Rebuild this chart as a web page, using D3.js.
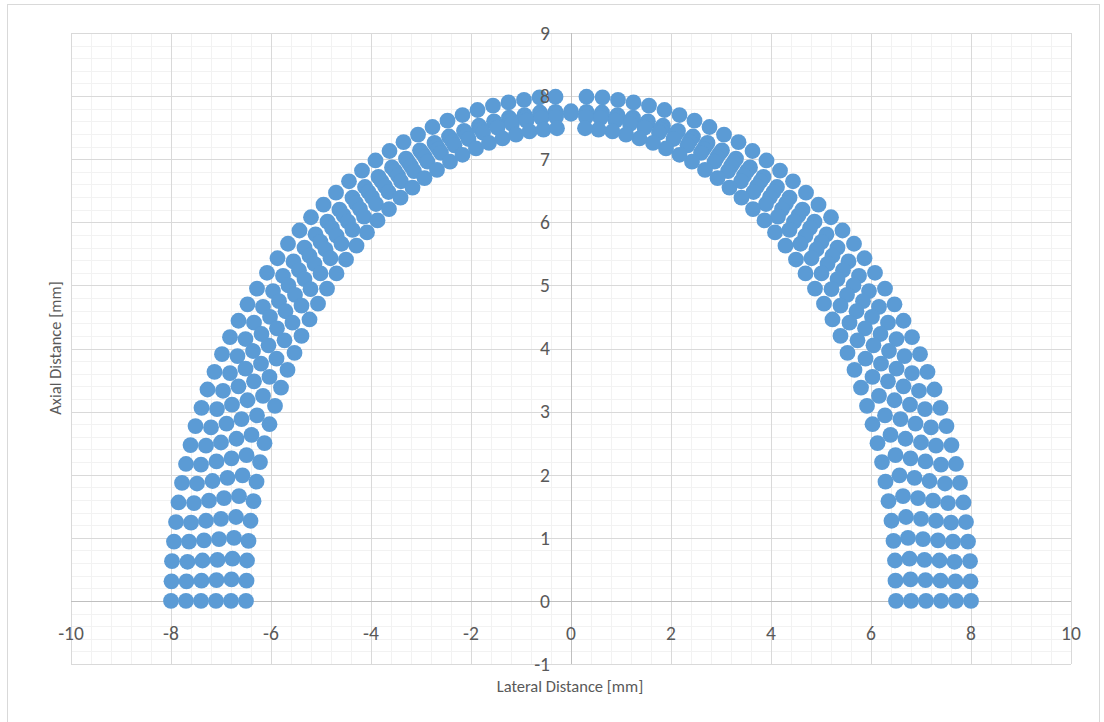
<!DOCTYPE html>
<html>
<head>
<meta charset="utf-8">
<script src="https://cdn.jsdelivr.net/npm/d3@7"></script>
<style>
  html, body { margin: 0; padding: 0; background: #fff; }
  svg { display: block; font-family: Calibri, Carlito, Lato, "Liberation Sans", sans-serif; }
</style>
</head>
<body>
<div id="chart"></div>
<script>
// point layers of the arch, outer to inner, [lateral mm, axial mm]
const outerLayer = [
  [-8,0],[-7.99,0.31],[-7.98,0.63],[-7.94,0.94],[-7.9,1.25],[-7.85,1.56],[-7.78,1.87],[-7.7,2.17],[-7.61,2.47],[-7.51,2.77],
  [-7.39,3.06],[-7.27,3.35],[-7.13,3.63],[-6.98,3.91],[-6.82,4.18],[-6.65,4.44],[-6.47,4.7],[-6.28,4.95],[-6.08,5.2],[-5.87,5.43],
  [-5.66,5.66],[-5.43,5.87],[-5.2,6.08],[-4.95,6.28],[-4.7,6.47],[-4.44,6.65],[-4.18,6.82],[-3.91,6.98],[-3.63,7.13],[-3.35,7.27],
  [-3.06,7.39],[-2.77,7.51],[-2.47,7.61],[-2.17,7.7],[-1.87,7.78],[-1.56,7.85],[-1.25,7.9],[-0.94,7.94],[-0.63,7.98],[-0.31,7.99],
  [8,0],[7.99,0.31],[7.98,0.63],[7.94,0.94],[7.9,1.25],[7.85,1.56],[7.78,1.87],[7.7,2.17],[7.61,2.47],[7.51,2.77],
  [7.39,3.06],[7.27,3.35],[7.13,3.63],[6.98,3.91],[6.82,4.18],[6.65,4.44],[6.47,4.7],[6.28,4.95],[6.08,5.2],[5.87,5.43],
  [5.66,5.66],[5.43,5.87],[5.2,6.08],[4.95,6.28],[4.7,6.47],[4.44,6.65],[4.18,6.82],[3.91,6.98],[3.63,7.13],[3.35,7.27],
  [3.06,7.39],[2.77,7.51],[2.47,7.61],[2.17,7.7],[1.87,7.78],[1.56,7.85],[1.25,7.9],[0.94,7.94],[0.63,7.98],[0.31,7.99]
];

const layer2 = [
  [-7.7,0],[-7.69,0.31],[-7.67,0.62],[-7.64,0.94],[-7.6,1.24],[-7.54,1.55],[-7.48,1.86],[-7.4,2.16],[-7.3,2.46],[-7.2,2.75],
  [-7.08,3.04],[-6.96,3.33],[-6.82,3.61],[-6.67,3.88],[-6.51,4.15],[-6.34,4.41],[-6.16,4.66],[-5.96,4.91],[-5.76,5.15],[-5.55,5.38],
  [-5.33,5.6],[-5.11,5.81],[-4.87,6.01],[-4.63,6.2],[-4.37,6.39],[-4.12,6.56],[-3.85,6.72],[-3.58,6.87],[-3.3,7.01],[-3.02,7.14],
  [-2.73,7.26],[-2.44,7.36],[-2.14,7.45],[-1.84,7.53],[-1.54,7.6],[-1.24,7.66],[-0.93,7.7],[-0.62,7.74],[-0.31,7.75],[0,7.76],
  [7.7,0],[7.69,0.31],[7.67,0.62],[7.64,0.94],[7.6,1.24],[7.54,1.55],[7.48,1.86],[7.4,2.16],[7.3,2.46],[7.2,2.75],
  [7.08,3.04],[6.96,3.33],[6.82,3.61],[6.67,3.88],[6.51,4.15],[6.34,4.41],[6.16,4.66],[5.96,4.91],[5.76,5.15],[5.55,5.38],
  [5.33,5.6],[5.11,5.81],[4.87,6.01],[4.63,6.2],[4.37,6.39],[4.12,6.56],[3.85,6.72],[3.58,6.87],[3.3,7.01],[3.02,7.14],
  [2.73,7.26],[2.44,7.36],[2.14,7.45],[1.84,7.53],[1.54,7.6],[1.24,7.66],[0.93,7.7],[0.62,7.74],[0.31,7.75]
];

const layer3 = [
  [-7.4,0],[-7.39,0.32],[-7.37,0.64],[-7.34,0.96],[-7.3,1.27],[-7.24,1.59],[-7.17,1.9],[-7.09,2.21],[-7,2.51],[-6.89,2.81],
  [-6.78,3.11],[-6.65,3.4],[-6.51,3.68],[-6.36,3.96],[-6.19,4.23],[-6.02,4.5],[-5.84,4.75],[-5.65,5],[-5.44,5.24],[-5.23,5.47],
  [-5.01,5.69],[-4.78,5.91],[-4.55,6.11],[-4.3,6.3],[-4.05,6.48],[-3.79,6.65],[-3.52,6.81],[-3.25,6.95],[-2.97,7.09],[-2.69,7.21],
  [-2.4,7.32],[-2.11,7.42],[-1.82,7.5],[-1.52,7.58],[-1.22,7.63],[-0.92,7.68],[-0.61,7.71],[-0.31,7.73],
  [7.4,0],[7.39,0.32],[7.37,0.64],[7.34,0.96],[7.3,1.27],[7.24,1.59],[7.17,1.9],[7.09,2.21],[7,2.51],[6.89,2.81],
  [6.78,3.11],[6.65,3.4],[6.51,3.68],[6.36,3.96],[6.19,4.23],[6.02,4.5],[5.84,4.75],[5.65,5],[5.44,5.24],[5.23,5.47],
  [5.01,5.69],[4.78,5.91],[4.55,6.11],[4.3,6.3],[4.05,6.48],[3.79,6.65],[3.52,6.81],[3.25,6.95],[2.97,7.09],[2.69,7.21],
  [2.4,7.32],[2.11,7.42],[1.82,7.5],[1.52,7.58],[1.22,7.63],[0.92,7.68],[0.61,7.71],[0.31,7.73]
];

const layer4 = [
  [-7.1,0],[-7.09,0.33],[-7.07,0.65],[-7.04,0.98],[-7,1.3],[-6.94,1.63],[-6.87,1.95],[-6.79,2.26],[-6.69,2.57],[-6.59,2.88],
  [-6.47,3.18],[-6.34,3.48],[-6.2,3.76],[-6.05,4.05],[-5.88,4.32],[-5.71,4.59],[-5.52,4.85],[-5.33,5.1],[-5.13,5.34],[-4.91,5.57],
  [-4.69,5.79],[-4.46,6.01],[-4.22,6.21],[-3.98,6.4],[-3.72,6.57],[-3.46,6.74],[-3.2,6.89],[-2.92,7.03],[-2.65,7.16],[-2.37,7.28],
  [-2.08,7.38],[-1.79,7.47],[-1.5,7.55],[-1.2,7.61],[-0.9,7.66],[-0.6,7.69],[-0.3,7.71],[0,7.72],
  [7.1,0],[7.09,0.33],[7.07,0.65],[7.04,0.98],[7,1.3],[6.94,1.63],[6.87,1.95],[6.79,2.26],[6.69,2.57],[6.59,2.88],
  [6.47,3.18],[6.34,3.48],[6.2,3.76],[6.05,4.05],[5.88,4.32],[5.71,4.59],[5.52,4.85],[5.33,5.1],[5.13,5.34],[4.91,5.57],
  [4.69,5.79],[4.46,6.01],[4.22,6.21],[3.98,6.4],[3.72,6.57],[3.46,6.74],[3.2,6.89],[2.92,7.03],[2.65,7.16],[2.37,7.28],
  [2.08,7.38],[1.79,7.47],[1.5,7.55],[1.2,7.61],[0.9,7.66],[0.6,7.69],[0.3,7.71]
];

const layer5 = [
  [-6.8,0],[-6.79,0.34],[-6.77,0.67],[-6.74,1],[-6.7,1.33],[-6.64,1.66],[-6.57,1.99],[-6.49,2.31],[-6.39,2.63],[-6.28,2.94],
  [-6.16,3.25],[-6.03,3.55],[-5.89,3.84],[-5.73,4.13],[-5.57,4.41],[-5.39,4.68],[-5.21,4.94],[-5.01,5.19],[-4.81,5.43],[-4.59,5.66],
  [-4.37,5.88],[-4.14,6.09],[-3.9,6.29],[-3.65,6.48],[-3.4,6.65],[-3.14,6.81],[-2.87,6.96],[-2.6,7.1],[-2.33,7.22],[-2.05,7.32],
  [-1.76,7.42],[-1.47,7.5],[-1.18,7.56],[-0.89,7.61],[-0.59,7.65],[-0.3,7.67],
  [6.8,0],[6.79,0.34],[6.77,0.67],[6.74,1],[6.7,1.33],[6.64,1.66],[6.57,1.99],[6.49,2.31],[6.39,2.63],[6.28,2.94],
  [6.16,3.25],[6.03,3.55],[5.89,3.84],[5.73,4.13],[5.57,4.41],[5.39,4.68],[5.21,4.94],[5.01,5.19],[4.81,5.43],[4.59,5.66],
  [4.37,5.88],[4.14,6.09],[3.9,6.29],[3.65,6.48],[3.4,6.65],[3.14,6.81],[2.87,6.96],[2.6,7.1],[2.33,7.22],[2.05,7.32],
  [1.76,7.42],[1.47,7.5],[1.18,7.56],[0.89,7.61],[0.59,7.65],[0.3,7.67]
];

const innerLayer = [
  [-6.5,0],[-6.49,0.32],[-6.48,0.64],[-6.45,0.95],[-6.41,1.27],[-6.35,1.58],[-6.29,1.89],[-6.22,2.2],[-6.13,2.5],[-6.03,2.8],
  [-5.92,3.09],[-5.8,3.38],[-5.67,3.66],[-5.53,3.93],[-5.39,4.2],[-5.23,4.46],[-5.06,4.71],[-4.88,4.95],[-4.69,5.19],[-4.5,5.41],
  [-4.29,5.63],[-4.08,5.84],[-3.87,6.03],[-3.64,6.21],[-3.41,6.39],[-3.17,6.55],[-2.93,6.7],[-2.68,6.83],[-2.42,6.96],[-2.17,7.07],
  [-1.9,7.17],[-1.64,7.26],[-1.37,7.33],[-1.1,7.39],[-0.83,7.44],[-0.55,7.47],[-0.28,7.49],
  [6.5,0],[6.49,0.32],[6.48,0.64],[6.45,0.95],[6.41,1.27],[6.35,1.58],[6.29,1.89],[6.22,2.2],[6.13,2.5],[6.03,2.8],
  [5.92,3.09],[5.8,3.38],[5.67,3.66],[5.53,3.93],[5.39,4.2],[5.23,4.46],[5.06,4.71],[4.88,4.95],[4.69,5.19],[4.5,5.41],
  [4.29,5.63],[4.08,5.84],[3.87,6.03],[3.64,6.21],[3.41,6.39],[3.17,6.55],[2.93,6.7],[2.68,6.83],[2.42,6.96],[2.17,7.07],
  [1.9,7.17],[1.64,7.26],[1.37,7.33],[1.1,7.39],[0.83,7.44],[0.55,7.47],[0.28,7.49]
];

const xTicks = [-10, -8, -6, -4, -2, 0, 2, 4, 6, 8, 10];
const yTicks = [-1, 0, 1, 2, 3, 4, 5, 6, 7, 8, 9];
const xTitle = 'Lateral Distance [mm]';
const yTitle = 'Axial Distance [mm]';

const width = 1104, height = 722;
const plot = { left: 71, right: 1071, top: 33, bottom: 664 };

const svg = d3.select('#chart').append('svg')
  .attr('width', width)
  .attr('height', height);

// chart area border
svg.append('rect')
  .attr('x', 7.5).attr('y', 4.5)
  .attr('width', 1092).attr('height', 740)
  .attr('fill', '#fff')
  .attr('stroke', '#d9d9d9');

const x = d3.scaleLinear().domain([-10, 10]).range([plot.left, plot.right]);
const y = d3.scaleLinear().domain([-1, 9]).range([plot.bottom, plot.top]);
const px = v => Math.round(v) + 0.5;

// minor grid: 5 divisions per major step
const xMinor = d3.range(-10, 10.001, 0.4);
const yMinor = d3.range(-1, 9.001, 0.2);

const grid = svg.append('g');
grid.selectAll('.vminor').data(xMinor).join('line')
  .attr('x1', d => px(x(d))).attr('x2', d => px(x(d)))
  .attr('y1', plot.top).attr('y2', plot.bottom)
  .attr('stroke', '#f2f2f2');
grid.selectAll('.hminor').data(yMinor).join('line')
  .attr('y1', d => px(y(d))).attr('y2', d => px(y(d)))
  .attr('x1', plot.left).attr('x2', plot.right)
  .attr('stroke', '#f2f2f2');
grid.selectAll('.vmajor').data(xTicks).join('line')
  .attr('x1', d => px(x(d))).attr('x2', d => px(x(d)))
  .attr('y1', plot.top).attr('y2', plot.bottom)
  .attr('stroke', '#d9d9d9');
grid.selectAll('.hmajor').data(yTicks).join('line')
  .attr('y1', d => px(y(d))).attr('y2', d => px(y(d)))
  .attr('x1', plot.left).attr('x2', plot.right)
  .attr('stroke', '#d9d9d9');

// axes crossing at zero
svg.append('line')
  .attr('x1', plot.left).attr('x2', plot.right)
  .attr('y1', px(y(0))).attr('y2', px(y(0)))
  .attr('stroke', '#bfbfbf');
svg.append('line')
  .attr('x1', px(x(0))).attr('x2', px(x(0)))
  .attr('y1', plot.top).attr('y2', plot.bottom)
  .attr('stroke', '#bfbfbf');

// points
const points = [outerLayer, layer2, layer3, layer4, layer5, innerLayer].flat();
svg.append('g').selectAll('circle').data(points).join('circle')
  .attr('cx', d => x(d[0]))
  .attr('cy', d => y(d[1]))
  .attr('r', 7.9)
  .attr('fill', '#5b9bd5');

// tick labels
svg.append('g').selectAll('text').data(xTicks).join('text')
  .attr('x', d => x(d))
  .attr('y', y(0) + 32)
  .attr('dy', '0.35em')
  .attr('text-anchor', 'middle')
  .attr('font-size', 19.5)
  .attr('fill', '#595959')
  .text(d => d);

svg.append('g').selectAll('text').data(yTicks).join('text')
  .attr('x', x(0) - 21)
  .attr('y', d => y(d))
  .attr('dy', '0.35em')
  .attr('text-anchor', 'end')
  .attr('font-size', 19.5)
  .attr('fill', '#595959')
  .text(d => d);

// axis titles
svg.append('text')
  .attr('x', 570).attr('y', 686)
  .attr('dy', '0.35em')
  .attr('text-anchor', 'middle')
  .attr('font-size', 16.5)
  .attr('fill', '#595959')
  .text(xTitle);

svg.append('text')
  .attr('transform', 'translate(55,348) rotate(-90)')
  .attr('dy', '0.35em')
  .attr('text-anchor', 'middle')
  .attr('font-size', 16.5)
  .attr('fill', '#595959')
  .text(yTitle);
</script>
</body>
</html>
